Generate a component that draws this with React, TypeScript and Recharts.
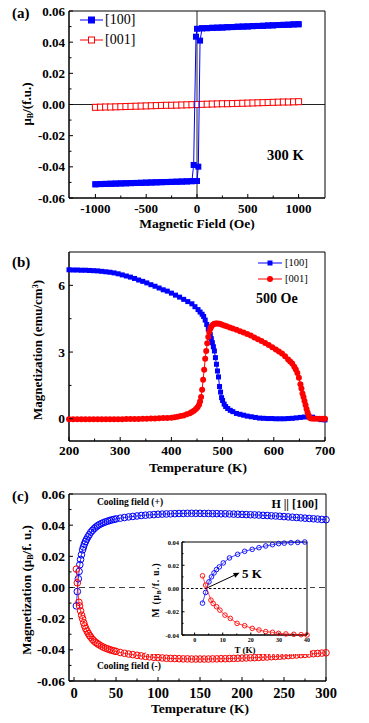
import React from "react";
import { ScatterChart, Scatter, XAxis, YAxis, ReferenceLine, ReferenceArea } from "recharts";

const SERIF = '"Liberation Serif", "Times New Roman", serif';
const BLUE = "#0000ff";
const RED = "#ff0000";

// (a) M-H loops at 300 K
const fieldDown = [1000, 950, 900, 850, 800, 750, 700, 650, 600, 550, 500, 450, 400, 350, 300, 250, 200, 150, 100, 50, 30, 13, 0, -50, -100, -150, -200, -250, -300, -350, -400, -450, -500, -550, -600, -650, -700, -750, -800, -850, -900, -950, -1000];
const momentDown = [0.0515, 0.0514, 0.0512, 0.0511, 0.051, 0.0508, 0.0507, 0.0505, 0.0504, 0.0503, 0.0501, 0.05, 0.0499, 0.0497, 0.0496, 0.0494, 0.0493, 0.0492, 0.049, 0.0489, 0.041, -0.0399, -0.0491, -0.0492, -0.0493, -0.0494, -0.0495, -0.0496, -0.0497, -0.0498, -0.0499, -0.05, -0.0501, -0.0502, -0.0503, -0.0504, -0.0505, -0.0506, -0.0507, -0.0508, -0.0509, -0.051, -0.0512];
const fieldUp = [-1000, -950, -900, -850, -800, -750, -700, -650, -600, -550, -500, -450, -400, -350, -300, -250, -200, -150, -100, -50, -33, -10, 0, 50, 100, 150, 200, 250, 300, 350, 400, 450, 500, 550, 600, 650, 700, 750, 800, 850, 900, 950, 1000];
const momentUp = [-0.0512, -0.0511, -0.051, -0.0509, -0.0508, -0.0507, -0.0506, -0.0505, -0.0504, -0.0503, -0.0502, -0.0501, -0.05, -0.0499, -0.0498, -0.0497, -0.0496, -0.0495, -0.0494, -0.0492, -0.0388, 0.0435, 0.0486, 0.0489, 0.049, 0.0492, 0.0493, 0.0494, 0.0496, 0.0497, 0.0499, 0.05, 0.0501, 0.0503, 0.0504, 0.0505, 0.0507, 0.0508, 0.051, 0.0511, 0.0512, 0.0514, 0.0515];
const fieldPerp = [-1000, -950, -900, -850, -800, -750, -700, -650, -600, -550, -500, -450, -400, -350, -300, -250, -200, -150, -100, -50, 0, 50, 100, 150, 200, 250, 300, 350, 400, 450, 500, 550, 600, 650, 700, 750, 800, 850, 900, 950, 1000];
const momentPerp = [-0.0018, -0.0017, -0.0016, -0.0016, -0.0015, -0.0014, -0.0013, -0.0012, -0.0011, -0.001, -0.0009, -0.0008, -0.0007, -0.0006, -0.0005, -0.0005, -0.0004, -0.0003, -0.0002, -0.0001, 0, 0.0001, 0.0002, 0.0003, 0.0004, 0.0005, 0.0005, 0.0006, 0.0007, 0.0008, 0.0009, 0.001, 0.0011, 0.0012, 0.0013, 0.0014, 0.0015, 0.0016, 0.0016, 0.0017, 0.0018];

// (b) M-T at 500 Oe
const tempB100 = [200, 208, 216, 224, 232, 240, 248, 256, 264, 272, 280, 288, 296, 304, 312, 320, 328, 336, 344, 352, 360, 368, 376, 384, 392, 400, 408, 416, 424, 432, 440, 446, 452, 456, 460, 463, 466, 469, 472, 474, 476, 478, 480, 482, 484, 486, 488, 490, 492, 494, 496, 498, 500, 503, 506, 510, 515, 520, 527, 534, 541, 548, 556, 564, 572, 580, 588, 596, 604, 612, 620, 628, 636, 644, 652, 660, 668, 676, 684, 692, 700];
const magB100 = [6.7, 6.69, 6.69, 6.68, 6.68, 6.67, 6.66, 6.65, 6.63, 6.61, 6.59, 6.56, 6.52, 6.47, 6.42, 6.37, 6.31, 6.24, 6.18, 6.11, 6.03, 5.96, 5.88, 5.8, 5.74, 5.65, 5.56, 5.47, 5.37, 5.27, 5.17, 5.04, 4.91, 4.8, 4.7, 4.6, 4.44, 4.24, 4.04, 3.92, 3.78, 3.6, 3.42, 3.24, 3.05, 2.75, 2.45, 2.15, 1.88, 1.45, 1.2, 0.95, 0.82, 0.66, 0.55, 0.46, 0.38, 0.32, 0.24, 0.2, 0.16, 0.12, 0.09, 0.06, 0.03, 0.02, 0.01, 0.01, 0, 0, 0, 0.01, 0.02, 0.04, 0.06, 0.08, 0.1, 0.07, 0.01, -0.04, -0.05];
const tempB001 = [200, 208, 216, 224, 232, 240, 248, 256, 264, 272, 280, 288, 296, 304, 312, 320, 328, 336, 344, 352, 360, 368, 376, 384, 392, 400, 406, 412, 418, 424, 430, 436, 440, 444, 448, 451, 454, 456, 458, 460, 462, 464, 466, 468, 470, 472, 474, 476, 478, 481, 484, 487, 490, 494, 498, 503, 508, 514, 520, 527, 534, 541, 548, 555, 562, 569, 576, 583, 590, 597, 604, 610, 616, 622, 628, 632, 636, 640, 643, 646, 649, 652, 654, 656, 658, 660, 662, 664, 666, 668, 670, 673, 678, 684, 690, 696, 700];
const magB001 = [-0.02, -0.02, -0.02, -0.02, -0.02, -0.02, -0.02, -0.02, -0.02, -0.02, -0.02, -0.02, -0.02, -0.02, -0.01, -0.01, -0.01, -0.01, 0, 0, 0.01, 0.01, 0.02, 0.03, 0.04, 0.05, 0.07, 0.09, 0.12, 0.15, 0.2, 0.25, 0.3, 0.36, 0.44, 0.52, 0.63, 0.78, 0.98, 1.3, 1.75, 2.2, 2.7, 3.05, 3.4, 3.68, 3.9, 4.05, 4.15, 4.23, 4.27, 4.29, 4.29, 4.27, 4.24, 4.2, 4.16, 4.11, 4.06, 4.0, 3.94, 3.88, 3.81, 3.74, 3.66, 3.58, 3.5, 3.41, 3.32, 3.22, 3.12, 3.03, 2.93, 2.81, 2.67, 2.57, 2.48, 2.34, 2.22, 2.06, 1.85, 1.55, 1.36, 1.14, 0.98, 0.8, 0.62, 0.44, 0.28, 0.15, 0.05, 0.01, 0, 0, 0, 0, 0];

// (c) field-cooled M-T, H || [100]
const tempPlus = [2.8, 3.9, 5.1, 6, 6.9, 7.8, 8.8, 10.2, 11.2, 12.4, 13.6, 15, 16.5, 18, 20, 22, 24, 26, 28, 30, 32.5, 35, 37.5, 40, 42.5, 45, 47.5, 50, 55, 60, 65, 70, 75, 80, 85, 90, 95, 100, 105, 110, 115, 120, 125, 130, 135, 140, 145, 150, 155, 160, 165, 170, 175, 180, 185, 190, 195, 200, 205, 210, 215, 220, 225, 230, 235, 240, 245, 250, 255, 260, 265, 270, 275, 280, 285, 290, 295, 300];
const magPlus = [-0.0118, -0.0026, 0.0056, 0.0103, 0.0146, 0.018, 0.021, 0.0242, 0.026, 0.0279, 0.0295, 0.031, 0.0325, 0.0338, 0.0355, 0.0367, 0.0378, 0.0388, 0.0396, 0.0403, 0.041, 0.0416, 0.0421, 0.0426, 0.043, 0.0434, 0.0437, 0.044, 0.0445, 0.0449, 0.0453, 0.0456, 0.0459, 0.0462, 0.0464, 0.0466, 0.0468, 0.047, 0.0471, 0.0472, 0.0473, 0.0474, 0.0475, 0.0475, 0.0476, 0.0476, 0.0476, 0.0476, 0.0475, 0.0475, 0.0474, 0.0474, 0.0473, 0.0473, 0.0472, 0.0471, 0.047, 0.0469, 0.0468, 0.0467, 0.0466, 0.0465, 0.0463, 0.0462, 0.046, 0.0459, 0.0457, 0.0455, 0.0453, 0.0451, 0.0449, 0.0447, 0.0445, 0.0443, 0.0441, 0.0439, 0.0437, 0.0435];
const tempMinus = [2.8, 3.9, 5.8, 6.6, 7.8, 9, 10.2, 11.5, 12.7, 14, 15.5, 17, 18.5, 20, 22, 24, 26, 28, 30, 32.5, 35, 37.5, 40, 42.5, 45, 47.5, 50, 55, 60, 65, 70, 75, 80, 85, 90, 95, 100, 105, 110, 115, 120, 125, 130, 135, 140, 145, 150, 155, 160, 165, 170, 175, 180, 185, 190, 195, 200, 205, 210, 215, 220, 225, 230, 235, 240, 245, 250, 255, 260, 265, 270, 275, 280, 285, 290, 295, 300];
const magMinus = [0.0118, 0.003, -0.0095, -0.0118, -0.015, -0.0178, -0.02, -0.0226, -0.0246, -0.0264, -0.028, -0.0295, -0.0308, -0.0319, -0.0333, -0.0344, -0.0353, -0.0361, -0.0368, -0.0376, -0.0383, -0.0389, -0.0394, -0.0399, -0.0403, -0.0407, -0.041, -0.0417, -0.0422, -0.0427, -0.0431, -0.0435, -0.0439, -0.0442, -0.0445, -0.0448, -0.045, -0.0452, -0.0454, -0.0455, -0.0456, -0.0457, -0.0458, -0.0458, -0.0459, -0.0459, -0.0459, -0.0459, -0.0459, -0.0458, -0.0458, -0.0457, -0.0457, -0.0456, -0.0455, -0.0454, -0.0453, -0.0452, -0.0451, -0.045, -0.0449, -0.0447, -0.0446, -0.0444, -0.0443, -0.0441, -0.0439, -0.0437, -0.0435, -0.0433, -0.0431, -0.0429, -0.0427, -0.0425, -0.0423, -0.0421, -0.0419, -0.0417];

// inset of (c), low temperature
const tempInPlus = [2.8, 3.9, 5.1, 6, 6.9, 7.8, 8.8, 10.2, 12.4, 15.3, 17.8, 20.5, 22.9, 25.3, 27.7, 29.9, 31.9, 34.3, 36.7, 39.2];
const magInPlus = [-0.0126, -0.0034, 0.0057, 0.01, 0.0134, 0.0163, 0.0186, 0.022, 0.0263, 0.0294, 0.032, 0.0337, 0.0351, 0.0366, 0.0377, 0.0386, 0.039, 0.0394, 0.0397, 0.04];
const tempInMinus = [2.8, 3.9, 5.8, 6.6, 7.8, 9, 10.8, 12.7, 15.1, 17.8, 20.5, 22.9, 25.3, 27.7, 29.9, 32.5, 35.3, 37.9, 40];
const magInMinus = [0.0109, 0.0029, -0.01, -0.0129, -0.0157, -0.0186, -0.0229, -0.0257, -0.03, -0.032, -0.0343, -0.0357, -0.0371, -0.0377, -0.0386, -0.0391, -0.0394, -0.0397, -0.04];

const pts = (xs: number[], ys: number[]) => xs.map((x, i) => ({ x, y: ys[i] }));

const isIn = (list: number[], v: number) => list.some((m) => Math.abs(m - v) < 1e-9);

function xTick(majors: number[], fmt: (v: number) => string, fs: number, gap: number, len = 4, minorLen = 2.5) {
  return (p: any) => {
    const v = p.payload.value;
    const major = isIn(majors, v);
    return (
      <g>
        <line x1={p.x} x2={p.x} y1={p.y} y2={p.y - (major ? len : minorLen)} stroke="#000" strokeWidth={1} />
        {major && (
          <text x={p.x} y={p.y + gap} textAnchor="middle" dominantBaseline="central" fontSize={fs} fontWeight="bold" fontFamily={SERIF} fill="#000">
            {fmt(v)}
          </text>
        )}
      </g>
    );
  };
}

function yTick(majors: number[], fmt: (v: number) => string, fs: number, gap: number, len = 4, minorLen = 2.5) {
  return (p: any) => {
    const v = p.payload.value;
    const major = isIn(majors, v);
    return (
      <g>
        <line x1={p.x} x2={p.x + (major ? len : minorLen)} y1={p.y} y2={p.y} stroke="#000" strokeWidth={1} />
        {major && (
          <text x={p.x - gap} y={p.y} textAnchor="end" dominantBaseline="central" fontSize={fs} fontWeight="bold" fontFamily={SERIF} fill="#000">
            {fmt(v)}
          </text>
        )}
      </g>
    );
  };
}

const filledSquare = (s: number, c: string) => (p: any) => <rect x={p.cx - s / 2} y={p.cy - s / 2} width={s} height={s} fill={c} />;
const openSquare = (s: number, c: string) => (p: any) => <rect x={p.cx - s / 2} y={p.cy - s / 2} width={s} height={s} fill="#fff" stroke={c} strokeWidth={1} />;
const filledCircle = (r: number, c: string) => (p: any) => <circle cx={p.cx} cy={p.cy} r={r} fill={c} />;
const openCircle = (r: number, c: string, w: number) => (p: any) => <circle cx={p.cx} cy={p.cy} r={r} fill="none" stroke={c} strokeWidth={w} />;

const f2 = (v: number) => v.toFixed(2);
const f0 = (v: number) => String(v);

const Sub = ({ children }: any) => <span style={{ fontSize: "0.62em", position: "relative", top: "0.3em" }}>{children}</span>;
const Sup = ({ children }: any) => <span style={{ fontSize: "0.62em", position: "relative", top: "-0.45em" }}>{children}</span>;

function Txt({ x, y, size, children, align = "left", rotate = false, weight = "bold", spacing = 0 }: any) {
  const tx = align === "center" ? "-50%" : align === "right" ? "-100%" : "0";
  const transform = rotate ? "translate(-50%, -50%) rotate(-90deg)" : `translate(${tx}, -50%)`;
  return (
    <div style={{ position: "absolute", left: x, top: y, transform, fontSize: size, fontWeight: weight, fontFamily: SERIF, whiteSpace: "nowrap", lineHeight: 1, color: "#000", letterSpacing: spacing }}>
      {children}
    </div>
  );
}

const abs = (left: number, top: number): React.CSSProperties => ({ position: "absolute", left, top });

function PanelA() {
  const xd: [number, number] = [-1260, 1260];
  const yd: [number, number] = [-0.06, 0.06];
  return (
    <div style={abs(0, 0)}>
      <ScatterChart width={369} height={232} margin={{ top: 11, right: 44, left: 9, bottom: 4 }}>
        <XAxis type="number" dataKey="x" domain={xd} ticks={[-1000, -750, -500, -250, 0, 250, 500, 750, 1000]} interval={0} tickSize={0} tickMargin={0} tickLine={false} axisLine={{ stroke: "#000" }} height={30}
          tick={xTick([-1000, -500, 0, 500, 1000], f0, 13, 10)} />
        <YAxis type="number" dataKey="y" domain={yd} ticks={[-0.06, -0.05, -0.04, -0.03, -0.02, -0.01, 0, 0.01, 0.02, 0.03, 0.04, 0.05, 0.06]} interval={0} tickSize={0} tickMargin={0} tickLine={false} axisLine={{ stroke: "#000" }} width={60}
          tick={yTick([-0.06, -0.04, -0.02, 0, 0.02, 0.04, 0.06], f2, 13, 4)} />
        <ReferenceArea x1={xd[0]} x2={xd[1]} y1={yd[0]} y2={yd[1]} fill="none" stroke="#000" strokeWidth={1} ifOverflow="visible" />
        <ReferenceLine x={0} stroke="#222" strokeWidth={1} />
        <ReferenceLine y={0} stroke="#222" strokeWidth={1} />
        <Scatter data={pts(fieldPerp, momentPerp)} shape={openSquare(6, RED)} line={{ stroke: RED, strokeWidth: 1 }} lineType="joint" isAnimationActive={false} />
        <Scatter data={pts(fieldDown, momentDown)} shape={filledSquare(6, BLUE)} line={{ stroke: BLUE, strokeWidth: 1 }} lineType="joint" isAnimationActive={false} />
        <Scatter data={pts(fieldUp, momentUp)} shape={filledSquare(6, BLUE)} line={{ stroke: BLUE, strokeWidth: 1 }} lineType="joint" isAnimationActive={false} />
      </ScatterChart>
    </div>
  );
}

function PanelB() {
  const xd: [number, number] = [200, 700];
  const yd: [number, number] = [-1, 7.5];
  return (
    <div style={abs(0, 230)}>
      <ScatterChart width={369} height={250} margin={{ top: 22, right: 44, left: 9, bottom: 4 }}>
        <XAxis type="number" dataKey="x" domain={xd} ticks={[200, 250, 300, 350, 400, 450, 500, 550, 600, 650, 700]} interval={0} tickSize={0} tickMargin={0} tickLine={false} axisLine={{ stroke: "#000" }} height={35}
          tick={xTick([200, 300, 400, 500, 600, 700], f0, 13.5, 9)} />
        <YAxis type="number" dataKey="y" domain={yd} ticks={[0, 1.5, 3, 4.5, 6]} interval={0} tickSize={0} tickMargin={0} tickLine={false} axisLine={{ stroke: "#000" }} width={60}
          tick={yTick([0, 3, 6], f0, 13.5, 4)} />
        <ReferenceArea x1={xd[0]} x2={xd[1]} y1={yd[0]} y2={yd[1]} fill="none" stroke="#000" strokeWidth={1} ifOverflow="visible" />
        <Scatter data={pts(tempB100, magB100)} shape={filledSquare(5, BLUE)} line={{ stroke: BLUE, strokeWidth: 1 }} lineType="joint" isAnimationActive={false} />
        <Scatter data={pts(tempB001, magB001)} shape={filledCircle(3, RED)} line={{ stroke: RED, strokeWidth: 1 }} lineType="joint" isAnimationActive={false} />
      </ScatterChart>
    </div>
  );
}

function PanelC() {
  const xd: [number, number] = [-6, 300];
  const yd: [number, number] = [-0.06, 0.06];
  return (
    <div style={abs(0, 480)}>
      <ScatterChart width={369} height={243} margin={{ top: 14, right: 43, left: 9, bottom: 4 }}>
        <XAxis type="number" dataKey="x" domain={xd} ticks={[0, 25, 50, 75, 100, 125, 150, 175, 200, 225, 250, 275, 300]} interval={0} tickSize={0} tickMargin={0} tickLine={false} axisLine={{ stroke: "#000" }} height={38}
          tick={xTick([0, 50, 100, 150, 200, 250, 300], f0, 14.5, 12)} />
        <YAxis type="number" dataKey="y" domain={yd} ticks={[-0.06, -0.05, -0.04, -0.03, -0.02, -0.01, 0, 0.01, 0.02, 0.03, 0.04, 0.05, 0.06]} interval={0} tickSize={0} tickMargin={0} tickLine={false} axisLine={{ stroke: "#000" }} width={60}
          tick={yTick([-0.06, -0.04, -0.02, 0, 0.02, 0.04, 0.06], f2, 13.5, 4)} />
        <ReferenceArea x1={xd[0]} x2={xd[1]} y1={yd[0]} y2={yd[1]} fill="none" stroke="#000" strokeWidth={1} ifOverflow="visible" />
        <ReferenceLine y={0} stroke="#444" strokeWidth={1} strokeDasharray="6 4" />
        <Scatter data={pts(tempPlus, magPlus)} shape={openCircle(3.3, BLUE, 1)} line={{ stroke: BLUE, strokeWidth: 0.8 }} lineType="joint" isAnimationActive={false} />
        <Scatter data={pts(tempMinus, magMinus)} shape={openCircle(3.3, RED, 1)} line={{ stroke: RED, strokeWidth: 0.8 }} lineType="joint" isAnimationActive={false} />
      </ScatterChart>
    </div>
  );
}

function Arrow(p: any) {
  const { x1, y1, x2, y2 } = p;
  const a = Math.atan2(y2 - y1, x2 - x1);
  const L = 6;
  const W = 2.6;
  const bx = x2 - L * Math.cos(a);
  const by = y2 - L * Math.sin(a);
  const nx = -Math.sin(a) * W;
  const ny = Math.cos(a) * W;
  return (
    <g>
      <line x1={x1} y1={y1} x2={bx} y2={by} stroke="#000" strokeWidth={1} />
      <polygon points={`${x2},${y2} ${bx + nx},${by + ny} ${bx - nx},${by - ny}`} fill="#000" />
    </g>
  );
}

function Inset() {
  const xd: [number, number] = [-4.5, 40];
  const yd: [number, number] = [-0.04, 0.04];
  return (
    <div style={{ ...abs(146, 538), background: "#fff", width: 164, height: 116 }}>
      <ScatterChart width={164} height={116} margin={{ top: 4, right: 3, left: 6, bottom: 3 }}>
        <XAxis type="number" dataKey="x" domain={xd} ticks={[0, 5, 10, 15, 20, 25, 30, 35, 40]} interval={0} tickSize={0} tickMargin={0} tickLine={false} axisLine={{ stroke: "#000" }} height={16}
          tick={xTick([0, 10, 20, 30, 40], f0, 6, 5, 2.5, 1.5)} />
        <YAxis type="number" dataKey="y" domain={yd} ticks={[-0.04, -0.03, -0.02, -0.01, 0, 0.01, 0.02, 0.03, 0.04]} interval={0} tickSize={0} tickMargin={0} tickLine={false} axisLine={{ stroke: "#000" }} width={30}
          tick={yTick([-0.04, -0.02, 0, 0.02, 0.04], f2, 6.5, 3, 2.5, 1.5)} />
        <ReferenceArea x1={xd[0]} x2={xd[1]} y1={yd[0]} y2={yd[1]} fill="none" stroke="#000" strokeWidth={1} ifOverflow="visible" />
        <ReferenceLine y={0} stroke="#000" strokeWidth={1} strokeDasharray="2.5 2" />
        <Scatter data={pts(tempInPlus, magInPlus)} shape={openCircle(2.3, BLUE, 0.9)} line={{ stroke: BLUE, strokeWidth: 0.7 }} lineType="joint" isAnimationActive={false} />
        <Scatter data={pts(tempInMinus, magInMinus)} shape={openCircle(2.3, RED, 0.9)} line={{ stroke: RED, strokeWidth: 0.7 }} lineType="joint" isAnimationActive={false} />
        <ReferenceLine segment={[{ x: 4, y: 0 }, { x: 16, y: 0.0135 }]} ifOverflow="visible" shape={Arrow} />
      </ScatterChart>
    </div>
  );
}

export default function App() {
  return (
    <div style={{ position: "absolute", left: 0, top: 0, width: 369, height: 723, background: "#fff", overflow: "hidden" }}>
      <PanelA />
      <PanelB />
      <PanelC />
      <Inset />

      <svg width={369} height={723} style={{ position: "absolute", left: 0, top: 0, pointerEvents: "none" }}>
        <line x1={80} y1={20} x2={103} y2={20} stroke={BLUE} strokeWidth={1} />
        <rect x={88} y={16.5} width={7} height={7} fill={BLUE} />
        <line x1={80} y1={40} x2={103} y2={40} stroke={RED} strokeWidth={1} />
        <rect x={88.5} y={37} width={6} height={6} fill="#fff" stroke={RED} strokeWidth={1} />
        <line x1={258} y1={263} x2={282} y2={263} stroke={BLUE} strokeWidth={1} />
        <rect x={267.5} y={260.5} width={5} height={5} fill={BLUE} />
        <line x1={258} y1={279} x2={282} y2={279} stroke={RED} strokeWidth={1} />
        <circle cx={270} cy={279} r={3} fill={RED} />
      </svg>

      <Txt x={12} y={13} size={15}>(a)</Txt>
      <Txt x={105} y={20} size={14} weight="normal">[100]</Txt>
      <Txt x={105} y={40} size={14} weight="normal">[001]</Txt>
      <Txt x={267} y={155} size={14.5}>300 K</Txt>
      <Txt x={27} y={104} size={13} rotate>μ<Sub>B</Sub>/(f.u.)</Txt>
      <Txt x={197} y={224} size={13.5} align="center">Magnetic Field (Oe)</Txt>

      <Txt x={12} y={262} size={15}>(b)</Txt>
      <Txt x={285} y={263} size={10.5} weight="normal">[100]</Txt>
      <Txt x={285} y={279} size={10.5} weight="normal">[001]</Txt>
      <Txt x={256} y={299} size={14}>500 Oe</Txt>
      <Txt x={38} y={350} size={13} rotate>Magnetization (emu/cm<Sup>3</Sup>)</Txt>
      <Txt x={198} y={468} size={13.5} align="center">Temperature (K)</Txt>

      <Txt x={12} y={496} size={15}>(c)</Txt>
      <Txt x={97} y={503} size={9.5}>Cooling field (+)</Txt>
      <Txt x={97} y={667} size={9.5}>Cooling field (-)</Txt>
      <Txt x={318} y={504} size={12} align="right">H || [100]</Txt>
      <Txt x={27} y={590} size={13} rotate>Magnetization (μ<Sub>B</Sub>/f. u.)</Txt>
      <Txt x={200} y={709} size={13.5} align="center">Temperature (K)</Txt>

      <Txt x={242} y={573} size={13}>5 K</Txt>
      <Txt x={245} y={650} size={9} align="center">T (K)</Txt>
      <Txt x={157} y={590} size={9.5} rotate spacing={0.8}>M (μ<Sub>B</Sub>/f. u.)</Txt>
    </div>
  );
}
